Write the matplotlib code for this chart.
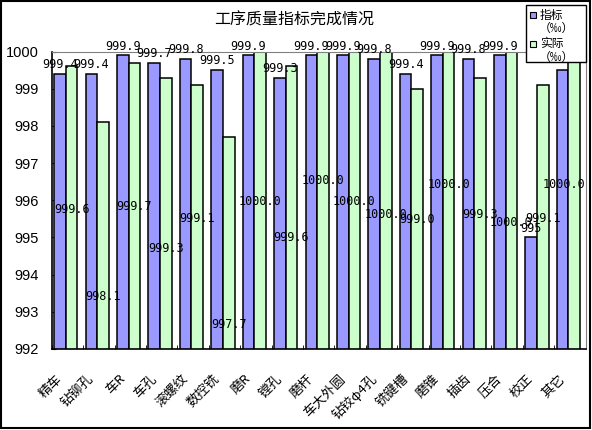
import matplotlib
matplotlib.use("Agg")
import matplotlib.pyplot as plt
import matplotlib.transforms as mtrans
from matplotlib.patches import Rectangle
import numpy as np

plt.rcParams['font.family'] = ['Noto Sans CJK SC', 'DejaVu Sans']

# data
categories = ['精车', '钻铆孔', '车R', '车孔', '滚螺纹', '数控铣', '磨R', '镗孔', '磨杆',
              '车大外圆', '钻铰φ4孔', '铣键槽', '磨锥', '插齿', '压合', '校正', '其它']
target = [999.4, 999.4, 999.9, 999.7, 999.8, 999.5, 999.9, 999.3, 999.9,
          999.9, 999.8, 999.4, 999.9, 999.8, 999.9, 995, 999.5]
actual = [999.6, 998.1, 999.7, 999.3, 999.1, 997.7, 1000.0, 999.6, 1000.0,
          1000.0, 1000.0, 999.0, 1000.0, 999.3, 1000.0, 999.1, 1000.0]
# the original chart put the labels of the actual series at odd heights
actual_label_y = [995.76, 993.42, 995.84, 994.71, 995.52, 992.67, 995.97, 995.01, 996.54,
                  995.97, 995.62, 995.49, 996.43, 995.62, 995.41, 995.52, 996.43]
series_names = ['指标', '实际']

c_target = '#9999FF'
c_actual = '#CCFFCC'

W, H = 592, 430
fig = plt.figure(figsize=(W / 100, H / 100), dpi=100)
ax = fig.add_axes([0.0873, 0.1884, 0.9021, 0.6916])


def px(xp, yp):
    # pixel position from the top-left corner -> figure fraction
    return xp / W, 1 - yp / H


x = np.arange(len(categories))
w = 0.37
off = -0.05
ax.bar(x + off - w / 2, target, w, color=c_target, edgecolor='black', linewidth=1.1, zorder=2)
ax.bar(x + off + w / 2, actual, w, color=c_actual, edgecolor='black', linewidth=1.1, zorder=2)

mono = 'DejaVu Sans Mono'
n = len(categories)
for i in range(n):
    if i < n - 1:  # the last one sits under the legend in the original
        ax.annotate(f'{target[i]:g}', (x[i] + off - w / 2, target[i]), xytext=(0, 2),
                    textcoords='offset points', ha='center', va='bottom',
                    fontsize=8.5, family=mono, zorder=3, annotation_clip=False)
    if i < n - 1:
        ax.text(x[i] + off + w / 2, actual_label_y[i], f'{actual[i]:.1f}', ha='center',
                va='center', fontsize=8.5, family=mono, zorder=3)
    else:
        ax.text(n - 0.5, actual_label_y[i], f'{actual[i]:.1f}', ha='right',
                va='center', fontsize=8.5, family=mono, zorder=3)

ax.set_ylim(992, 1000)
ax.set_xlim(-0.5, n - 0.5)
ax.set_yticks(range(992, 1001))
ax.tick_params(axis='y', direction='in', length=3, pad=9, labelsize=10.5)
for t in ax.get_yticklabels():
    t.set_family(['Liberation Sans', 'DejaVu Sans'])

ax.set_xticks(x)
ax.set_xticklabels(categories, rotation=45, ha='right', va='center',
                   rotation_mode='anchor', fontsize=9.5)
ax.tick_params(axis='x', length=0, pad=20)
shift = mtrans.ScaledTranslation(-7 / 100, 0, fig.dpi_scale_trans)
for t in ax.get_xticklabels():
    t.set_transform(t.get_transform() + shift)
ax.set_xticks(np.arange(-0.5, n, 1), minor=True)
ax.tick_params(axis='x', which='minor', direction='in', length=3)

for s in ['top', 'right']:
    ax.spines[s].set_color('#808080')
for s in ['left', 'bottom']:
    ax.spines[s].set_color('black')
    ax.spines[s].set_linewidth(1.2)

fig.text(*px(294, 20), '工序质量指标完成情况', ha='center', va='center', fontsize=11.5)

# legend box drawn by hand, as in the original (marker beside the first line)
x0, y0 = px(526, 62)
x1, y1 = px(586, 5)
fig.patches.append(Rectangle((x0, y0), x1 - x0, y1 - y0, transform=fig.transFigure,
                             facecolor='white', edgecolor='black', linewidth=1, zorder=10))
for k, (name, col) in enumerate(zip(series_names, [c_target, c_actual])):
    top = 15 + 29 * k
    sx, sy = px(530, top + 3)
    fig.patches.append(Rectangle((sx, sy), 6 / W, 6 / H, transform=fig.transFigure,
                                 facecolor=col, edgecolor='black', linewidth=0.8, zorder=11))
    fig.text(*px(540, top), name, ha='left', va='center', fontsize=8.5, zorder=12)
    fig.text(*px(556, top + 13), '（‰）', ha='center', va='center', fontsize=8.5, zorder=12)

fig.patches.append(Rectangle((0.002, 0.004), 0.994, 0.993, transform=fig.transFigure,
                             fill=False, edgecolor='black', linewidth=1.5))

fig.savefig('out.png', dpi=100)
